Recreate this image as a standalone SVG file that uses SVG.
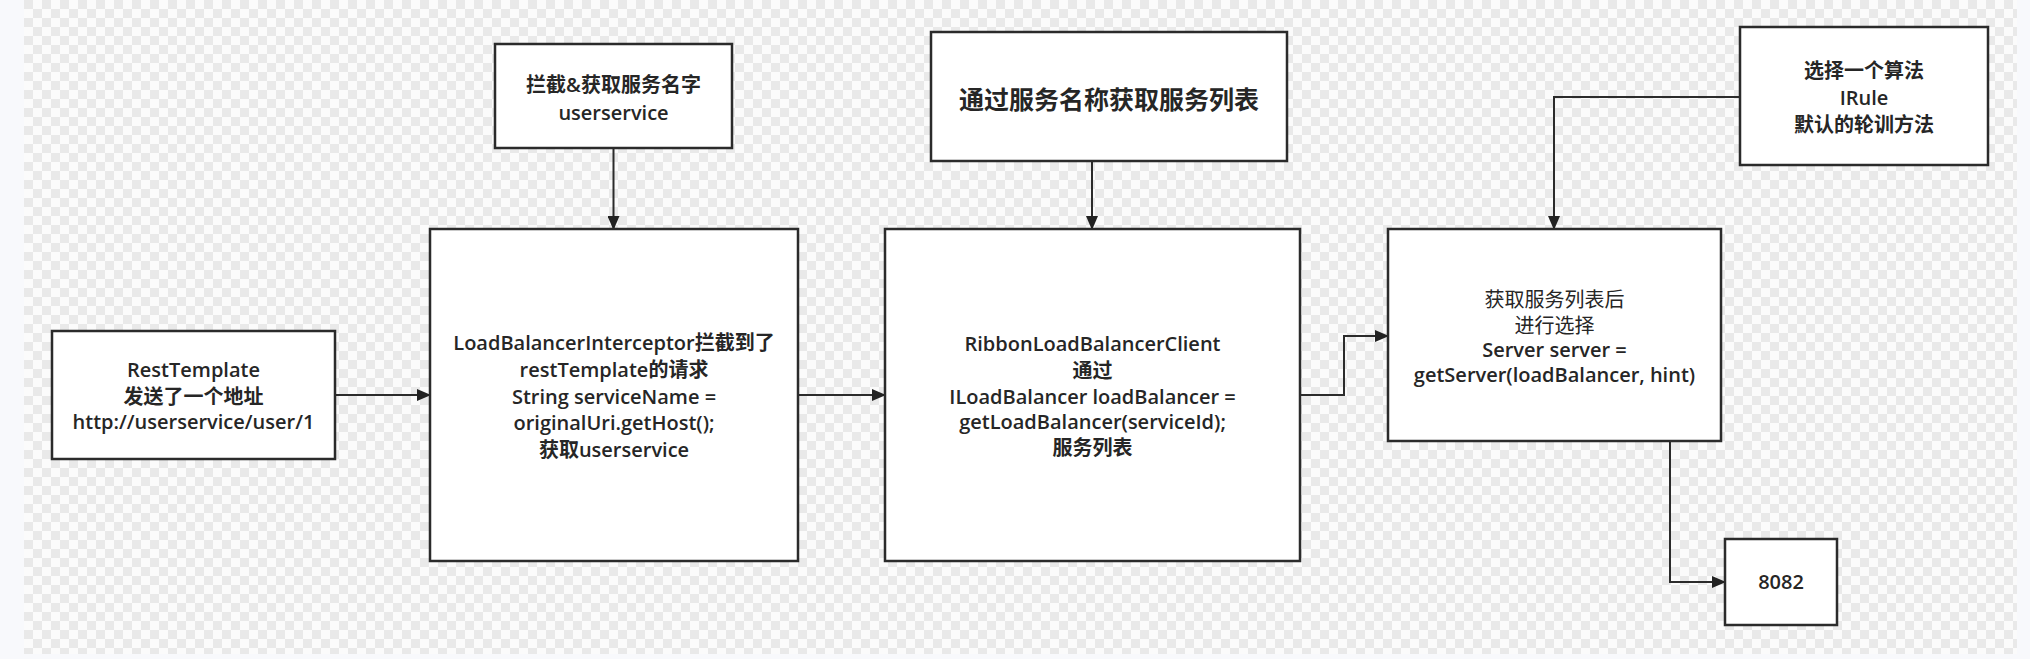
<svg xmlns="http://www.w3.org/2000/svg" width="2030" height="659" viewBox="0 0 2030 659">
<defs>
<pattern id="chk" x="24" y="0" width="18" height="18" patternUnits="userSpaceOnUse">
<rect width="18" height="18" fill="#fbfbfb"/>
<rect width="9" height="9" fill="#e9e9e9"/>
<rect x="9" y="9" width="9" height="9" fill="#e9e9e9"/>
</pattern>
<marker id="arr" markerWidth="14" markerHeight="12" refX="13" refY="6" orient="auto" markerUnits="userSpaceOnUse">
<path d="M0,0 L14,6 L0,12 Z" fill="#222"/>
</marker>
<style>
.box{fill:#fff;stroke:#2b2b2b;stroke-width:2.5}
.t{font-family:"Open Sans","Noto Sans CJK SC",sans-serif;font-size:20px;font-weight:600;fill:#262626;text-anchor:middle}
.n{font-weight:400}
.big{font-size:25px;font-weight:700}
.c{fill:none;stroke:#2b2b2b;stroke-width:2}
</style>
</defs>
<rect x="0" y="0" width="2030" height="659" fill="#f8f9fc"/>
<rect x="24" y="0" width="1993" height="654" fill="url(#chk)"/>

<g id="connectors">
<path class="c" d="M335,395 H430" marker-end="url(#arr)"/>
<path class="c" d="M798,395 H885" marker-end="url(#arr)"/>
<path class="c" d="M1300,395 H1344 V336 H1388" marker-end="url(#arr)"/>
<path class="c" d="M613.5,148 V229" marker-end="url(#arr)"/>
<path class="c" d="M1092,161 V229" marker-end="url(#arr)"/>
<path class="c" d="M1740,97 H1554 V229" marker-end="url(#arr)"/>
<path class="c" d="M1670,441 V582 H1725" marker-end="url(#arr)"/>
</g>

<g id="restTemplate">
<rect class="box" x="52" y="331" width="283" height="128"/>
<text class="t" x="193.5" y="377">RestTemplate</text>
<text class="t" x="193.5" y="404">发送了一个地址</text>
<text class="t" x="193.5" y="429">http://userservice/user/1</text>
</g>

<g id="interceptor">
<rect class="box" x="430" y="229" width="368" height="332"/>
<text class="t" x="614" y="350">LoadBalancerInterceptor拦截到了</text>
<text class="t" x="614" y="377">restTemplate的请求</text>
<text class="t" x="614" y="404">String serviceName =</text>
<text class="t" x="614" y="430">originalUri.getHost();</text>
<text class="t" x="614" y="457">获取userservice</text>
</g>

<g id="ribbonClient">
<rect class="box" x="885" y="229" width="415" height="332"/>
<text class="t" x="1092.5" y="351">RibbonLoadBalancerClient</text>
<text class="t" x="1092.5" y="378">通过</text>
<text class="t" x="1092.5" y="404">ILoadBalancer loadBalancer =</text>
<text class="t" x="1092.5" y="429">getLoadBalancer(serviceId);</text>
<text class="t" x="1092.5" y="455">服务列表</text>
</g>

<g id="getServer">
<rect class="box" x="1388" y="229" width="333" height="212"/>
<text class="t n" x="1554.5" y="307">获取服务列表后</text>
<text class="t n" x="1554.5" y="333">进行选择</text>
<text class="t" x="1554.5" y="357">Server server =</text>
<text class="t" x="1554.5" y="382">getServer(loadBalancer, hint)</text>
</g>

<g id="interceptName">
<rect class="box" x="495" y="44" width="237" height="104"/>
<text class="t" x="613.5" y="92">拦截&amp;获取服务名字</text>
<text class="t" x="613.5" y="120">userservice</text>
</g>

<g id="serviceList">
<rect class="box" x="931" y="32" width="356" height="129"/>
<text class="t big" x="1109" y="109">通过服务名称获取服务列表</text>
</g>

<g id="irule">
<rect class="box" x="1740" y="27" width="248" height="138"/>
<text class="t" x="1864" y="78">选择一个算法</text>
<text class="t" x="1864" y="105">IRule</text>
<text class="t" x="1864" y="132">默认的轮训方法</text>
</g>

<g id="port8082">
<rect class="box" x="1725" y="539" width="112" height="86"/>
<text class="t" x="1781" y="589">8082</text>
</g>
</svg>
